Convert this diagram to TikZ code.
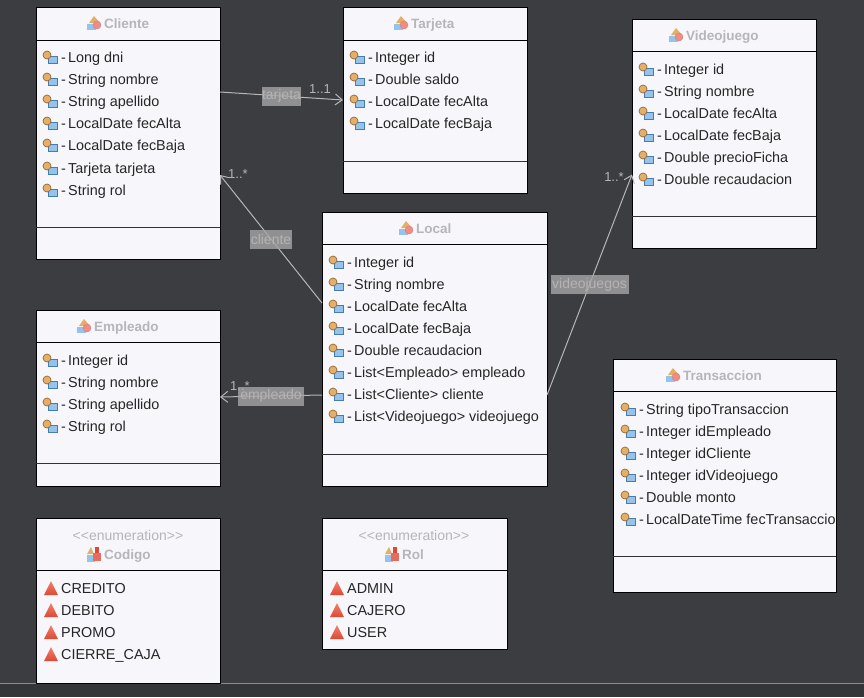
\documentclass[tikz,border=0pt]{standalone}
\usepackage{fontspec}
\setmainfont{Liberation Sans}
\usepackage{xcolor}
\usetikzlibrary{arrows.meta, positioning, calc}
\definecolor{cBack}{RGB}{60,61,64}
\definecolor{cFoot}{RGB}{52,53,56}
\definecolor{cBox}{RGB}{247,246,250}
\definecolor{cTitle}{RGB}{182,182,186}
\definecolor{cLink}{RGB}{182,182,184}
\definecolor{cTag}{RGB}{165,165,167}
\definecolor{cTagText}{RGB}{180,180,182}
\definecolor{cIconBlue}{RGB}{150,195,235}
\definecolor{cIconEdge}{RGB}{70,125,175}
\definecolor{cIconTan}{RGB}{228,175,105}
\definecolor{cIconBrown}{RGB}{150,105,55}
\definecolor{cIconPink}{RGB}{240,140,130}
\definecolor{cEnumTop}{RGB}{240,130,110}
\definecolor{cEnumLow}{RGB}{222,72,52}
\tikzset{
	umlbox/.style ={rectangle, draw=black, line width=1pt, fill=cBox, anchor=north west, inner sep=0pt, outer sep=0pt},
	umlname/.style={anchor=base west, inner sep=0pt, text=cTitle, font=\fontsize{13.5}{15}\selectfont\bfseries},
	stereo/.style ={anchor=base, inner sep=0pt, text=cTitle, font=\fontsize{14}{16}\selectfont},
	attr/.style   ={anchor=base west, inner sep=0pt, text=black!85, font=\fontsize{14.4}{16}\selectfont},
	assoc/.style  ={-{Straight Barb[length=7pt,width=11pt]}, cLink, line width=1pt},
	linktag/.style={fill=cTag, fill opacity=.8, text opacity=1, text=cTagText, inner sep=0pt, minimum height=19pt, font=\fontsize{14}{16}\selectfont},
	mult/.style   ={inner sep=0pt, text=cLink, font=\fontsize{13}{15}\selectfont},
	% icons of the rows and of the titles
	attricon/.pic={
		\draw[draw=cIconEdge, line width=.7pt, fill=cIconBlue] (-2,-1) rectangle (7,6);
		\draw[draw=cIconBrown, line width=.7pt, fill=cIconTan] (-3,-2) circle (4);
	},
	enumicon/.pic={
		\shade[top color=cEnumTop, bottom color=cEnumLow] (-7,7) -- (0,-7) -- (7,7) -- cycle;
	},
	classicon/.pic={
		\fill[cIconTan] (-5,0) -- (0,-7) -- (6,0) -- cycle;
		\fill[cIconBlue] (-7,1) rectangle (2,7);
		\draw[draw=red!60!black!50, fill=cIconPink] (3,2) circle (4);
	},
	enumclassicon/.pic={
		\fill[cIconTan] (-7,0) -- (-3,-7) -- (0,0) -- cycle;
		\fill[cIconBlue] (-7,1) rectangle (1,8);
		\fill[cEnumLow!80] (-1,-1) rectangle (7,7);
		\fill[cEnumLow] (1,-7) rectangle (5,-1);
	},
}
\begin{document}
\begin{tikzpicture}[x=1pt, y=-1pt]
	\useasboundingbox (0,0) rectangle (864,697);
	\fill[cBack] (0,0) rectangle (864,683);
	\fill[cFoot] (0,683) rectangle (864,697);
	\draw[black!45, line width=1pt] (0,683) -- (864,683);

	% class boxes: name/x/y/width/height/first divider/second divider
	\foreach \n/\x/\y/\w/\h/\da/\db in {cliente/36/7/184/252/40/227, tarjeta/343/7/184/186/40/161, videojuego/632/19/184/229/51/216, local/322/212/225/274/244/454, empleado/36/310/184/176/342/463, transaccion/613/359/223/233/391/556}{
		\node[umlbox, minimum width=\w, minimum height=\h] (\n) at (\x,\y) {};
		\draw[line width=1pt] (\n.west |- 0,\da) -- (\n.east |- 0,\da);
		\draw[black!80, line width=1pt] (\n.west |- 0,\db) -- (\n.east |- 0,\db);
	}
	\node[umlbox, minimum width=184, minimum height=165] (codigo) at (36,518) {};
	\node[umlbox, minimum width=185, minimum height=131] (rol) at (322,518) {};
	\draw[line width=1pt] (codigo.west |- 0,570) -- (codigo.east |- 0,570);
	\draw[line width=1pt] (rol.west |- 0,570) -- (rol.east |- 0,570);

	% titles
	\foreach \x/\y/\t in {104/23/Cliente, 411/23/Tarjeta, 686/35/Videojuego, 416/228/Local, 94/326/Empleado, 683/375/Transaccion}{
		\node[umlname] at (\x,\y+5) {\t};
		\pic at (\x-10,\y) {classicon};
	}
	\node[stereo] at (128,540) {<{}<enumeration>{}>};
	\node[stereo] at (414,540) {<{}<enumeration>{}>};
	\node[umlname] at (104,559) {Codigo};
	\node[umlname] at (402,559) {Rol};
	\pic at (94,554) {enumclassicon};
	\pic at (392,554) {enumclassicon};

	% attributes
	\foreach \x/\y/\t in {
		68/57/Long dni, 68/79/String nombre, 68/101/String apellido, 68/123/LocalDate fecAlta, 68/145/LocalDate fecBaja, 68/168/Tarjeta tarjeta, 68/190/String rol,
		375/57/Integer id, 375/79/Double saldo, 375/101/LocalDate fecAlta, 375/123/LocalDate fecBaja,
		664/69/Integer id, 664/91/String nombre, 664/113/LocalDate fecAlta, 664/135/LocalDate fecBaja, 664/157/Double precioFicha, 664/179/Double recaudacion,
		354/262/Integer id, 354/284/String nombre, 354/306/LocalDate fecAlta, 354/328/LocalDate fecBaja, 354/350/Double recaudacion, 354/372/List<Empleado> empleado, 354/394/List<Cliente> cliente, 354/416/List<Videojuego> videojuego,
		68/360/Integer id, 68/382/String nombre, 68/404/String apellido, 68/426/String rol,
		646/409/String tipoTransaccion, 646/431/Integer idEmpleado, 646/453/Integer idCliente, 646/475/Integer idVideojuego, 646/497/Double monto, 646/519/LocalDateTime fecTransaccio}{
		\pic at (\x-18,\y) {attricon};
		\node[attr] at (\x-7,\y+5) {-};
		\node[attr] at (\x,\y+5) {\t};
	}
	% enum values
	\foreach \x/\y/\t in {61/588/CREDITO, 61/610/DEBITO, 61/632/PROMO, 61/654/CIERRE\_CAJA, 347/588/ADMIN, 347/610/CAJERO, 347/632/USER}{
		\pic at (\x-10,\y) {enumicon};
		\node[attr] at (\x,\y+5) {\t};
	}

	% associations
	\draw[assoc] ([yshift=41]cliente.east) -- node[linktag, minimum width=38pt] {tarjeta} (tarjeta.west);
	\draw[assoc] ([yshift=46]local.west) -- node[linktag, minimum width=42pt] {cliente} ([yshift=-42]cliente.east);
	\draw[assoc] ([yshift=-46]local.west) -- node[linktag, minimum width=66pt] {empleado} ([yshift=1]empleado.east);
	\draw[assoc] ([yshift=-46]local.east) -- node[linktag, minimum width=78pt] {videojuegos} ([yshift=-41]videojuego.west);

	\node[mult] (m1) at (320,89) {1..1};
	\node[mult] (m2) at (238,174) {1..*};
	\node[mult] (m3) at (240,386) {1..*};
	\node[mult] (m4) at (614,177) {1..*};
\end{tikzpicture}
\end{document}
